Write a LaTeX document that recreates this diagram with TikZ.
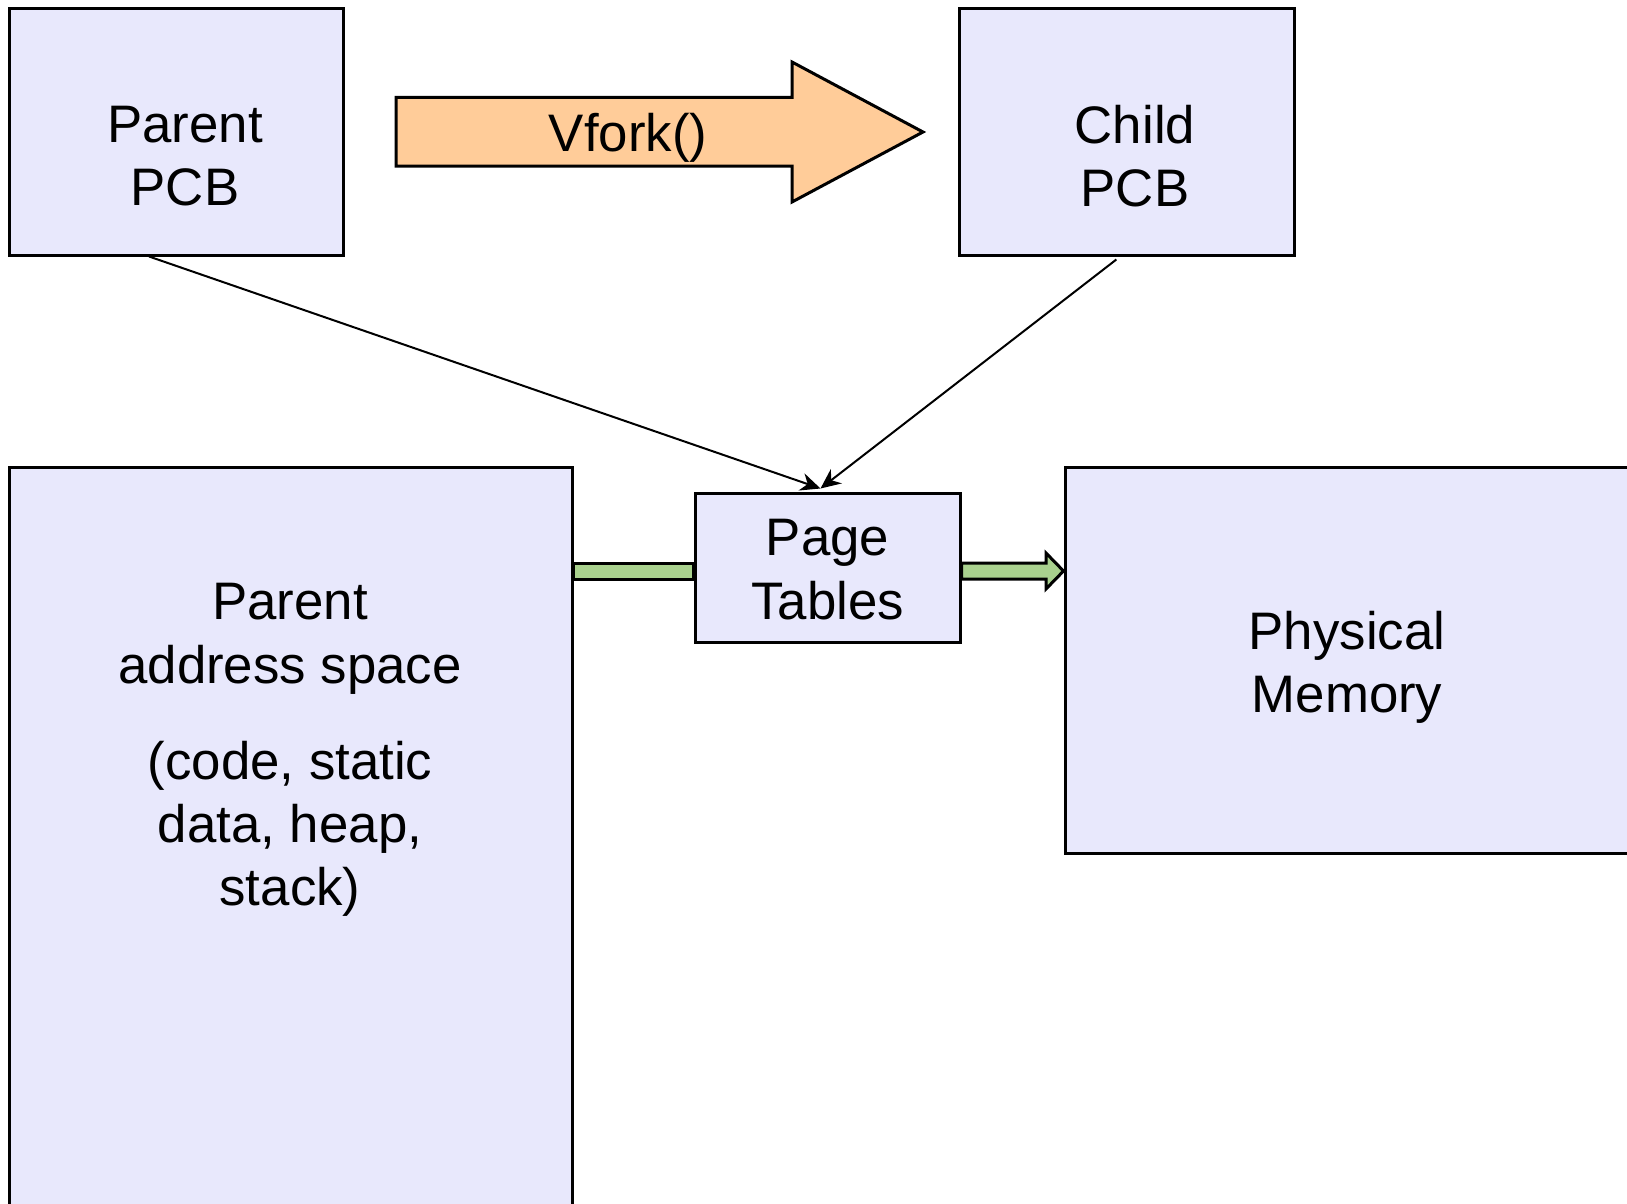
\documentclass[tikz,border=0pt]{standalone}
\usepackage{fontspec}
\setmainfont{Liberation Sans}
\usetikzlibrary{calc,arrows.meta}

\definecolor{boxfill}{HTML}{E8E8FC}
\definecolor{forkfill}{HTML}{FFCC99}
\definecolor{mapfill}{HTML}{A9D18E}

\tikzset{
  box/.style={draw, line width=1.5pt, fill=boxfill, rectangle, inner sep=0pt},
  label text/.style={align=center, inner sep=0pt, font=\fontsize{26.4}{31.6}\selectfont},
  link/.style={line width=1pt, -{Stealth[length=10pt,width=9pt]}},
  fat arrow/.style={draw, line width=1.5pt, line join=miter},
}

\begin{document}
\begin{tikzpicture}[x=0.5pt,y=-0.5pt]

\useasboundingbox (0,0) rectangle (1627,1204);
\clip (0,0) rectangle (1627,1204);

% boxes
\node[box, minimum width=167pt, minimum height=123pt] (ppcb) at (176,132) {};
\node[box, minimum width=167.5pt, minimum height=123pt] (cpcb) at (1126.5,132) {};
\node[box, minimum width=281.5pt, minimum height=391pt] (pas) at (290.5,858) {};
\node[box, minimum width=282.5pt, minimum height=193pt] (mem) at (1347.5,660) {};
\node[box, minimum width=132.5pt, minimum height=74.5pt] (pt) at (827.5,567.5) {};

% texts
\node[label text] (ppcbtext) at (185,156) {Parent\\PCB};
\node[label text] (cpcbtext) at (1135,156) {Child\\PCB};
\node[label text] (pastext) at (290,750) {Parent\\address space\\[16.5pt](code, static\\data, heap,\\stack)};
\node[label text] (memtext) at (1347,667) {Physical\\Memory};
\node[label text] (pttext) at (827.5,569.5) {Page\\Tables};

% vfork arrow
\draw[fat arrow, fill=forkfill] (396,97.5) -- (792,97.5) -- (792,62) -- (923,132)
  -- (792,202) -- (792,166) -- (396,166) -- cycle;
\node[label text] (vfork) at (628,138) {Vfork()};

% mapping arrows
\draw[fat arrow, fill=mapfill] (pas.east|-0,563) rectangle (pt.west|-0,579);
\draw[fat arrow, fill=mapfill] (pt.east|-0,563) -- (1046,563) -- (1046,553) -- (mem.west|-0,571)
  -- (1046,589) -- (1046,579) -- (pt.east|-0,579) -- cycle;

% pcb pointers
\coordinate (ptin) at ($(pt.north)+(-7,-3)$);
\draw[link] ($(ppcb.south west)!0.42!(ppcb.south east)$) -- (ptin);
\draw[link] ($(cpcb.south west)!0.47!(cpcb.south east)+(0,3)$) -- (ptin);

\end{tikzpicture}
\end{document}
